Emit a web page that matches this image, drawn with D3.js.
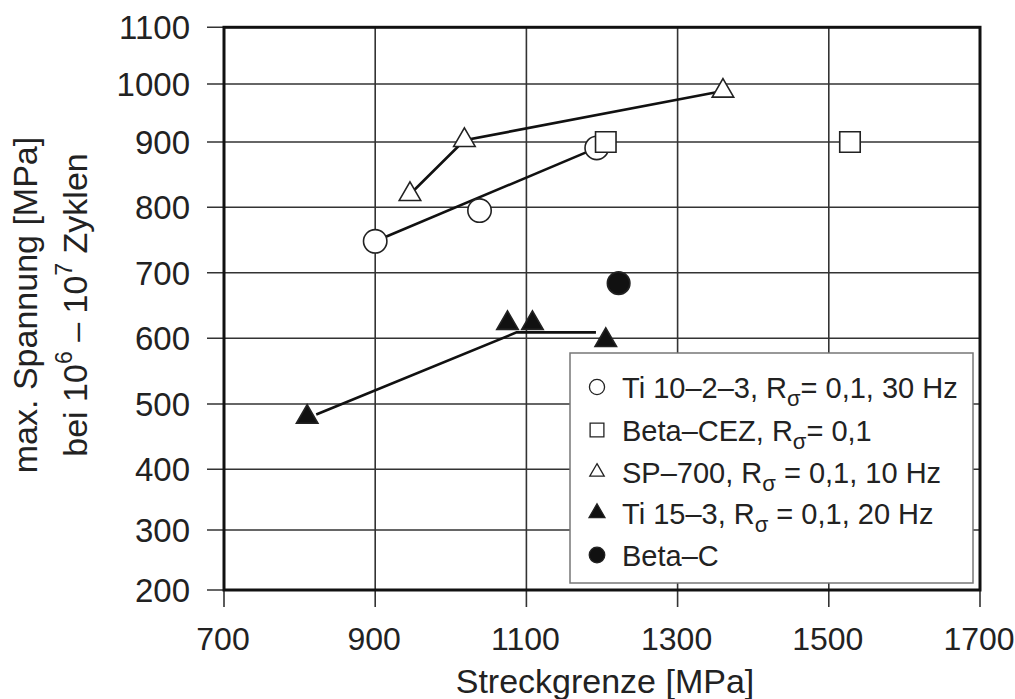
<!DOCTYPE html>
<html>
<head>
<meta charset="utf-8">
<script src="https://cdn.jsdelivr.net/npm/d3@7"></script>
<style>
  body { margin: 0; background: #fff; }
  text { font-family: "Liberation Sans", Arial, sans-serif; fill: #222; }
</style>
</head>
<body>
<svg width="1015" height="699"></svg>
<script>
// values
var xTicks = [700, 900, 1100, 1300, 1500, 1700];
var yTicks = [200, 300, 400, 500, 600, 700, 800, 900, 1000, 1100];

var ti1023X = [900, 1038, 1193], ti1023Y = [748, 795, 891];
var ti1023FitX = [900, 1193], ti1023FitY = [748, 891];
var betaCezX = [1205, 1528], betaCezY = [900, 900];
var sp700X = [946, 1018, 1360], sp700Y = [820, 903, 988];
var ti153X = [810, 1075, 1108, 1205], ti153Y = [480, 623, 623, 597];
var ti153FitX = [822, 1087, 1192], ti153FitY = [484, 609, 609];
var betaCX = [1222], betaCY = [684];

var legendNames = [
  ["Ti 10\u20132\u20133, R", "\u03c3", "= 0,1, 30 Hz"],
  ["Beta\u2013CEZ, R", "\u03c3", "= 0,1"],
  ["SP\u2013700, R", "\u03c3", " = 0,1, 10 Hz"],
  ["Ti 15\u20133, R", "\u03c3", " = 0,1, 20 Hz"],
  ["Beta\u2013C", "", ""]
];

var svg = d3.select("svg");

var x = d3.scaleLinear().domain([700, 1700]).range([224, 980]);
// the printed y axis is not evenly spaced, so the scale is piecewise
var y = d3.scaleLinear().domain(yTicks)
  .range([590, 530, 469.3, 404, 338.3, 272.7, 207.3, 142, 84, 27.3]);

var pts = function (xs, ys) { return xs.map(function (v, i) { return [v, ys[i]]; }); };

// grid
var grid = svg.append("g");
grid.selectAll(".gx").data(xTicks).enter().append("line")
  .attr("x1", d => x(d)).attr("x2", d => x(d))
  .attr("y1", y(1100)).attr("y2", y(200) + 17)
  .style("stroke", "#333").style("stroke-width", 1.6);
grid.selectAll(".gy").data(yTicks).enter().append("line")
  .attr("x1", x(700) - 17).attr("x2", x(1700))
  .attr("y1", d => y(d)).attr("y2", d => y(d))
  .style("stroke", "#333").style("stroke-width", 1.6);

// tick labels
svg.selectAll(".xl").data(xTicks).enter().append("text")
  .attr("x", d => x(d) - 1).attr("y", 650)
  .attr("text-anchor", "middle").style("font-size", "32px")
  .text(d => d);
svg.selectAll(".yl").data(yTicks).enter().append("text")
  .attr("x", 190).attr("y", d => y(d) + 12)
  .attr("text-anchor", "end").style("font-size", "33px")
  .text(d => d);

// fit lines
var line = d3.line().x(d => x(d[0])).y(d => y(d[1]));
[pts(ti1023FitX, ti1023FitY), pts(sp700X, sp700Y), pts(ti153FitX, ti153FitY)].forEach(function (p) {
  svg.append("path").attr("d", line(p))
    .style("fill", "none").style("stroke", "#111").style("stroke-width", 2.6);
});

function marks(data, type, size, fill) {
  svg.selectAll(null).data(data).enter().append("path")
    .attr("transform", d => "translate(" + x(d[0]) + "," + y(d[1]) + ")")
    .attr("d", d3.symbol().type(type).size(size))
    .style("fill", fill).style("stroke", "#222").style("stroke-width", 1.6);
}

marks(pts(ti1023X, ti1023Y), d3.symbolCircle, 430, "#fff");
marks(pts(betaCezX, betaCezY), d3.symbolSquare, 420, "#fff");
marks(pts(sp700X, sp700Y), d3.symbolTriangle, 200, "#fff");
marks(pts(ti153X, ti153Y), d3.symbolTriangle, 200, "#111");
marks(pts(betaCX, betaCY), d3.symbolCircle, 400, "#111");

// legend
var lg = svg.append("g");
lg.append("rect").attr("x", 570).attr("y", 353).attr("width", 403).attr("height", 230)
  .style("fill", "#fff").style("stroke", "#777").style("stroke-width", 1.5);
var legSym = [
  [d3.symbolCircle, 180, "#fff"],
  [d3.symbolSquare, 190, "#fff"],
  [d3.symbolTriangle, 90, "#fff"],
  [d3.symbolTriangle, 110, "#111"],
  [d3.symbolCircle, 190, "#111"]
];
var rowY = [387, 430, 472, 513, 555];
legendNames.forEach(function (n, i) {
  lg.append("path").attr("transform", "translate(597," + rowY[i] + ")")
    .attr("d", d3.symbol().type(legSym[i][0]).size(legSym[i][1]))
    .style("fill", legSym[i][2]).style("stroke", "#222").style("stroke-width", 1.3);
  var t = lg.append("text").attr("x", 622).attr("y", rowY[i] + 11).style("font-size", "29px");
  t.append("tspan").text(n[0]);
  if (n[1]) {
    t.append("tspan").attr("dy", 8).style("font-size", "22px").text(n[1]);
    t.append("tspan").attr("dy", -8).text(n[2]);
  }
});

// frame
svg.append("rect").attr("x", x(700)).attr("y", y(1100))
  .attr("width", x(1700) - x(700)).attr("height", y(200) - y(1100))
  .style("fill", "none").style("stroke", "#111").style("stroke-width", 3);

// axis titles
svg.append("text").attr("x", x(1200) + 3).attr("y", 693)
  .attr("text-anchor", "middle").style("font-size", "34px")
  .text("Streckgrenze [MPa]");

var yt = svg.append("g").attr("transform", "translate(0,305) rotate(-90)");
yt.append("text").attr("x", 0).attr("y", 37).attr("text-anchor", "middle")
  .style("font-size", "34px").text("max. Spannung [MPa]");
var t2 = yt.append("text").attr("x", 0).attr("y", 87).attr("text-anchor", "middle")
  .style("font-size", "34px");
t2.append("tspan").text("bei 10");
t2.append("tspan").attr("dy", -15).style("font-size", "23px").text("6");
t2.append("tspan").attr("dy", 15).text(" \u2013 10");
t2.append("tspan").attr("dy", -15).style("font-size", "23px").text("7");
t2.append("tspan").attr("dy", 15).text(" Zyklen");
</script>
</body>
</html>
